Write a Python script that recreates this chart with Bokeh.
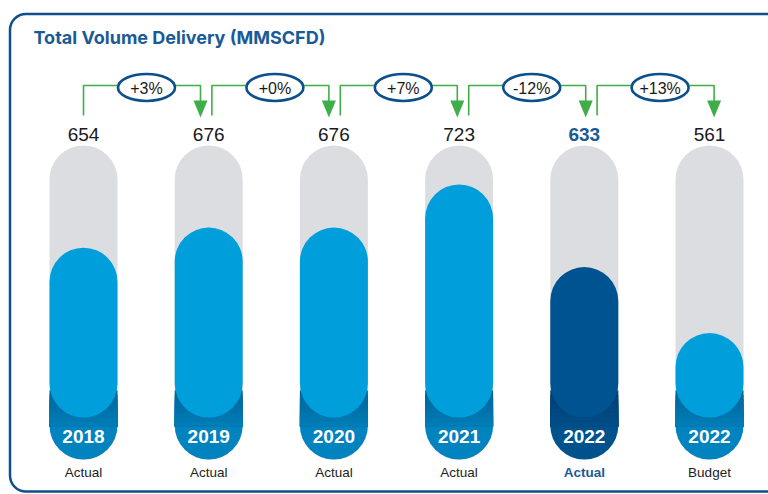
from bokeh.plotting import figure
from bokeh.models import Range1d
from bokeh.embed import file_html
from bokeh.resources import INLINE
from bokeh.core.properties import value

# ---- data ----
years = ["2018", "2019", "2020", "2021", "2022", "2022"]
kinds = ["Actual", "Actual", "Actual", "Actual", "Actual", "Budget"]
volumes = [654, 676, 676, 723, 633, 561]
changes = ["+3%", "+0%", "+7%", "-12%", "+13%"]
highlight = 4  # index of the highlighted column (2022 Actual)

# ---- layout / style ----
W, H = 768, 494
FONT = "Liberation Sans"
TFONT = "Inter"
BLUE_TXT = "#1a5a96"
FRAME = "#0d4f8b"
GRAY = "#dcdde0"
GREEN = "#3fae49"

p = figure(width=W, height=H, output_backend="svg", toolbar_location=None,
           x_range=Range1d(0, W), y_range=Range1d(H, 0),
           min_border=0, x_axis_location=None, y_axis_location=None,
           outline_line_color=None, background_fill_color="white")
p.xgrid.visible = False
p.ygrid.visible = False

# value scale (pixel top of fill = A - B * value)
A, B = 847.0, 0.917
def px_to_val(py):
    return (A - py) / B
p.extra_y_ranges = {"val": Range1d(px_to_val(H), px_to_val(0))}

n = len(volumes)
x0, pitch, colw = 83.0, 125.2, 68
xs = [x0 + i * pitch for i in range(n)]

# frame
p.quad(left=9.5, right=950, top=13.5, bottom=491, border_radius=16,
       fill_color=None, line_color=FRAME, line_width=2.5)
p.text(x=[33], y=[36.5], text=["Total Volume Delivery (MMSCFD)"],
       text_font=value(TFONT), text_font_style="bold", text_font_size="18px",
       text_color=BLUE_TXT, text_baseline="middle", text_align="left")

# gray capsule
p.vbar(x=xs, width=colw, top=145, bottom=459, border_radius=34,
       fill_color=GRAY, line_color=None)

# base: rounded bottom with a soft vertical shading
base_bottom = ["#0083bf"] * n
base_top = ["#00669a"] * n
base_bottom[highlight] = "#00528d"
base_top[highlight] = "#003f74"
p.scatter(x=xs, y=[425] * n, marker="circle", size=colw,
          fill_color=base_bottom, line_color=None)

def mix(c1, c2, t):
    a = [int(c1[k:k + 2], 16) for k in (1, 3, 5)]
    b = [int(c2[k:k + 2], 16) for k in (1, 3, 5)]
    return "#%02x%02x%02x" % tuple(round(a[j] + (b[j] - a[j]) * t) for j in range(3))

nb = 8
for k in range(nb):
    t0 = 390 + k * 4.5
    cols = [mix(base_top[i], base_bottom[i], 0.75 * k / (nb - 1)) for i in range(n)]
    p.vbar(x=xs, width=colw, top=t0, bottom=426, fill_color=cols, line_color=None)

# value fill pills
fill_cols = ["#009fdb"] * n
fill_cols[highlight] = "#005391"
p.vbar(x=xs, width=colw, top=volumes, bottom=px_to_val(417), border_radius=34,
       fill_color=fill_cols, line_color=None, y_range_name="val")

# year labels
p.text(x=xs, y=[436] * n, text=years, text_font=value(FONT), text_font_style="bold",
       text_font_size="19px", text_color="white", text_align="center", text_baseline="middle")

# kind labels
norm = [i for i in range(n) if i != highlight]
p.text(x=[xs[i] for i in norm], y=[472] * len(norm), text=[kinds[i] for i in norm],
       text_font=value(FONT), text_font_size="13.5px", text_color="#222222",
       text_align="center", text_baseline="middle")
p.text(x=[xs[highlight]], y=[472], text=[kinds[highlight]],
       text_font=value(FONT), text_font_style="bold", text_font_size="13.5px",
       text_color=BLUE_TXT, text_align="center", text_baseline="middle")

# value labels
p.text(x=[xs[i] for i in norm], y=[134] * len(norm), text=[str(volumes[i]) for i in norm],
       text_font=value(FONT), text_font_size="19px", text_color="#1a1a1a",
       text_align="center", text_baseline="middle")
p.text(x=[xs[highlight]], y=[134], text=[str(volumes[highlight])],
       text_font=value(FONT), text_font_style="bold", text_font_size="19px",
       text_color=BLUE_TXT, text_align="center", text_baseline="middle")

# change arrows
a0, apitch, alen = 83.0, 128.4, 117.0
lx, ly, hx, hy = [], [], [], []
ex_c = []
for i in range(len(changes)):
    sx = a0 + i * apitch
    ex = sx + alen
    lx.append([sx, sx, ex, ex])
    ly.append([115, 85, 85, 102])
    hx.append([ex - 7, ex + 7, ex])
    hy.append([100, 100, 117])
    ex_c.append(sx + 63)
p.multi_line(xs=lx, ys=ly, line_color=GREEN, line_width=1.6)
p.patches(xs=hx, ys=hy, fill_color=GREEN, line_color=None)
p.ellipse(x=ex_c, y=[87] * len(changes), width=57, height=27,
          width_units="screen", height_units="screen",
          fill_color="white", line_color=FRAME, line_width=2.6)
p.text(x=ex_c, y=[88] * len(changes), text=changes, text_font=value(FONT),
       text_font_size="16px", text_color="#1a1a1a", text_align="center", text_baseline="middle")

open("out.html", "w").write(file_html(p, INLINE))
